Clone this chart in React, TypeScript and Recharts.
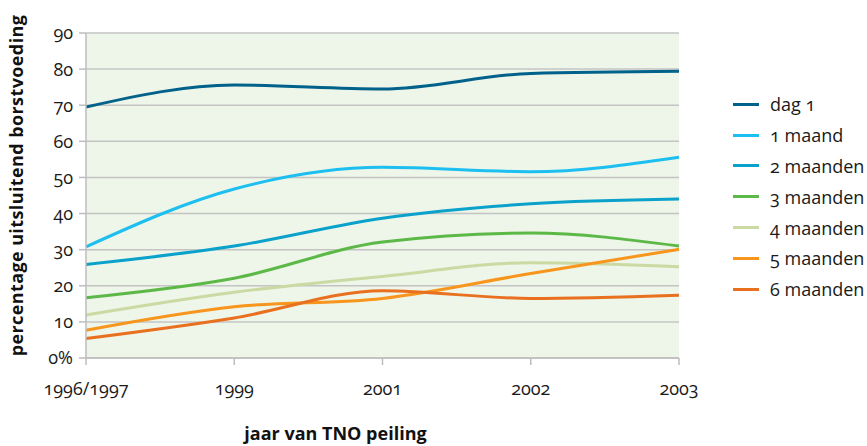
import { CartesianGrid, Legend, Line, LineChart, XAxis, YAxis } from 'recharts';

const years = ['1996/1997', '1999', '2001', '2002', '2003'];
const dag1 = [69.5, 75.6, 74.5, 78.8, 79.4];
const maand1 = [30.8, 46.8, 52.8, 51.6, 55.6];
const maanden2 = [25.9, 31.0, 38.7, 42.7, 44.0];
const maanden3 = [16.7, 22.1, 32.1, 34.6, 31.0];
const maanden4 = [11.9, 18.2, 22.6, 26.4, 25.3];
const maanden5 = [7.7, 14.2, 16.5, 23.4, 30.1];
const maanden6 = [5.4, 11.1, 18.6, 16.5, 17.4];
const yTicks = [0, 10, 20, 30, 40, 50, 60, 70, 80, 90];

const series = [
  { key: 'dag1', name: 'dag 1', color: '#00628b', values: dag1 },
  { key: 'm1', name: '1 maand', color: '#1cbfef', values: maand1 },
  { key: 'm2', name: '2 maanden', color: '#0aa2cb', values: maanden2 },
  { key: 'm3', name: '3 maanden', color: '#5db947', values: maanden3 },
  { key: 'm4', name: '4 maanden', color: '#cbdaa2', values: maanden4 },
  { key: 'm5', name: '5 maanden', color: '#f7951d', values: maanden5 },
  { key: 'm6', name: '6 maanden', color: '#e8701f', values: maanden6 },
];

const data = years.map((jaar, i) => {
  const row: Record<string, string | number> = { jaar };
  series.forEach((s) => {
    row[s.key] = s.values[i];
  });
  return row;
});

const font = '"Open Sans", Lato, sans-serif';
const numStyle = { fontVariantNumeric: 'oldstyle-nums' } as const;

// eigen legenda: kort lijntje + tekst, verticaal gestapeld
function LegendBlock() {
  return (
    <div style={{ fontFamily: font, fontSize: 18, color: '#1a1a1a', ...numStyle }}>
      {series.map((s) => (
        <div key={s.key} style={{ display: 'flex', alignItems: 'center', height: 30.8, whiteSpace: 'nowrap' }}>
          <span style={{ display: 'inline-block', width: 26, height: 3, background: s.color, marginRight: 11 }} />
          <span>{s.name}</span>
        </div>
      ))}
    </div>
  );
}

export default function App() {
  return (
    <div style={{ position: 'absolute', left: 0, top: 0, background: '#fff' }}>
      <LineChart width={867} height={446} data={data} margin={{ top: 33, right: 54, bottom: 0, left: 0 }}>
        <CartesianGrid fill="#eef5e9" stroke="#c4c4c4" strokeWidth={1.5} vertical={false} />
        <XAxis
          dataKey="jaar"
          height={88}
          axisLine={{ stroke: '#bdbdbd', strokeWidth: 1.5 }}
          tickLine={{ stroke: '#bdbdbd', strokeWidth: 1.5 }}
          tickSize={7}
          tickMargin={17}
          interval={0}
          tick={{ fill: '#1a1a1a', fontSize: 18, fontFamily: font, style: numStyle }}
          label={{
            value: 'jaar van TNO peiling',
            position: 'insideBottom',
            offset: 6,
            dx: -47,
            style: { fill: '#111', fontSize: 18, fontWeight: 700, fontFamily: font },
          }}
        />
        <YAxis
          domain={[0, 90]}
          ticks={yTicks}
          width={86}
          axisLine={{ stroke: '#bdbdbd', strokeWidth: 1.5 }}
          tickLine={{ stroke: '#bdbdbd', strokeWidth: 1.5 }}
          tickSize={7}
          tickMargin={6}
          tickFormatter={(v) => (v === 0 ? '0%' : String(v))}
          tick={{ fill: '#1a1a1a', fontSize: 18, fontFamily: font, style: numStyle }}
          label={{
            value: 'percentage uitsluitend borstvoeding',
            angle: -90,
            position: 'insideLeft',
            offset: 17,
            dy: -10,
            style: { textAnchor: 'middle', fill: '#111', fontSize: 18, fontWeight: 700, fontFamily: font, letterSpacing: 0.4 },
          }}
        />
        <YAxis
          yAxisId="rand"
          orientation="right"
          domain={[0, 90]}
          ticks={yTicks}
          width={0}
          tick={false}
          tickLine={false}
          axisLine={{ stroke: '#bdbdbd', strokeWidth: 1.5 }}
        />
        {series.map((s) => (
          <Line
            key={s.key}
            type="monotone"
            dataKey={s.key}
            name={s.name}
            stroke={s.color}
            strokeWidth={3}
            dot={false}
            activeDot={false}
            isAnimationActive={false}
          />
        ))}
        <Legend
          layout="vertical"
          align="right"
          verticalAlign="top"
          content={<LegendBlock />}
          wrapperStyle={{ left: 733, top: 89, width: 134 }}
        />
      </LineChart>
    </div>
  );
}
